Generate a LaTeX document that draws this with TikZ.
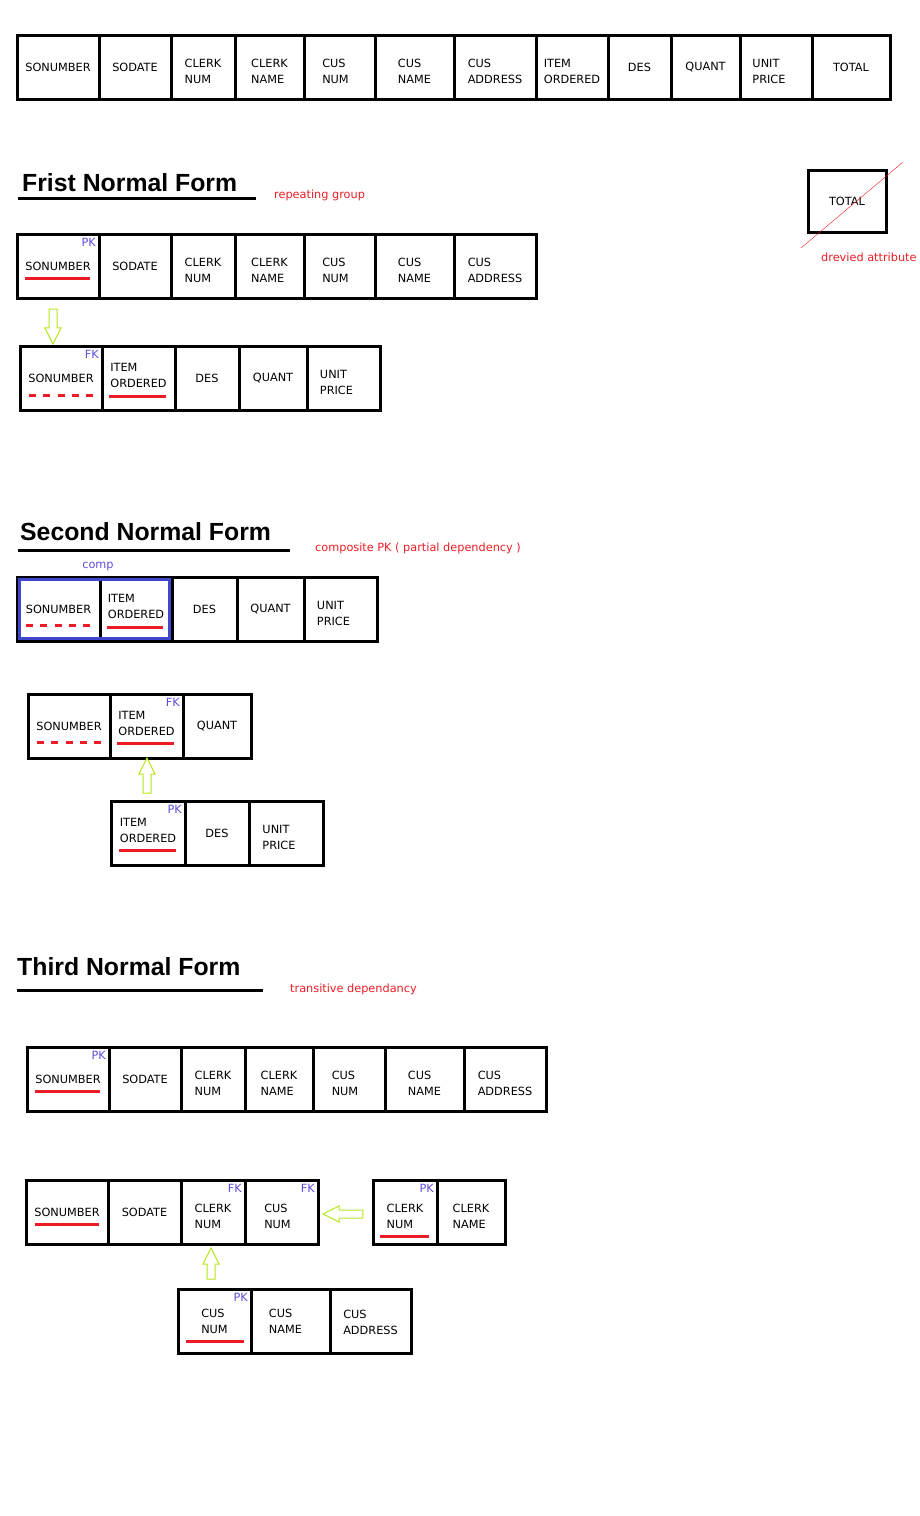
\documentclass[tikz,border=0pt]{standalone}
\usepackage{fontspec}
\setmainfont{DejaVu Sans}
\newfontfamily\titlefont{Liberation Sans}
\usetikzlibrary{positioning, shapes.arrows, fit}
\definecolor{markred}{HTML}{ED1C24}
\definecolor{keyblue}{HTML}{5B4FDB}
\definecolor{compblue}{HTML}{3F48CC}
\definecolor{arrowlime}{HTML}{B5E61D}
\newcommand{\cellfont}{\fontsize{11.3}{16}\selectfont}
\newcommand{\headfont}{\titlefont\bfseries\fontsize{24.8}{28}\selectfont}
% two-line cell text, lowered by #1 from the middle
\newcommand{\twoline}[3][5pt]{\raisebox{-#1}[\height][\depth]{\begin{tabular}{@{}l@{}}#2\\#3\end{tabular}}}

\tikzset{
  cell/.style={draw, line width=3pt, outer sep=0pt, inner sep=0pt,
    minimum height=64pt, align=left, font=\cellfont},
  keytag/.style={anchor=north east, inner sep=2pt, xshift=-1pt, yshift=-2.5pt,
    text=keyblue, font=\cellfont},
  note/.style={anchor=west, inner sep=0pt, text=markred, font=\cellfont},
  heading/.style={anchor=base west, inner sep=0pt, font=\headfont},
  pkline/.style={markred, line width=3pt},
  fkline/.style={markred, line width=3pt, dash pattern=on 7pt off 7.25pt},
  hollowarrow/.style={single arrow, draw=arrowlime, line width=1pt, inner sep=3.5pt,
    single arrow head extend=4pt, single arrow tip angle=53, single arrow head indent=0pt},
}

\begin{document}
\begin{tikzpicture}[x=1pt, y=-1pt]
  \useasboundingbox (0,0) rectangle (920,1516);

  % unnormalised table
  \node[cell, minimum width=82pt, anchor=north west] (u1) at (17,35) {SONUMBER};
  \node[cell, minimum width=72pt, right=0pt of u1] (u2) {SODATE};
  \node[cell, minimum width=64pt, right=0pt of u2] (u3) {\twoline{CLERK}{NUM}};
  \node[cell, minimum width=69pt, right=0pt of u3] (u4) {\twoline{CLERK}{NAME}};
  \node[cell, minimum width=71pt, right=0pt of u4] (u5) {\twoline{CUS}{NUM}\hspace*{8pt}};
  \node[cell, minimum width=79pt, right=0pt of u5] (u6) {\twoline{CUS}{NAME}};
  \node[cell, minimum width=82pt, right=0pt of u6] (u7) {\twoline{CUS}{ADDRESS}};
  \node[cell, minimum width=72pt, right=0pt of u7] (u8) {\twoline{ITEM}{ORDERED}};
  \node[cell, minimum width=63pt, right=0pt of u8] (u9) {DES};
  \node[cell, minimum width=69pt, right=0pt of u9] (u10) {QUANT};
  \node[cell, minimum width=72pt, right=0pt of u10] (u11) {\twoline{UNIT}{PRICE}\hspace*{14pt}};
  \node[cell, minimum width=78pt, right=0pt of u11] (u12) {TOTAL};

  % first normal form
  \node[heading] (h1) at (22,191) {Frist Normal Form};
  \draw[line width=3pt] (18,198) -- (256,198);
  \node[note] (n1) at (274,195) {repeating group};

  \node[cell, minimum width=78pt, minimum height=62pt, anchor=north west] (tot) at (808,170) {TOTAL};
  \draw[markred, thin] ([shift={(-7,16)}]tot.south west) -- ([shift={(17,-8)}]tot.north east);
  \node[note] (n2) at (821,257) {drevied attribute};

  \node[cell, minimum width=82pt, anchor=north west] (fa1) at (17,234) {SONUMBER};
  \node[cell, minimum width=72pt, right=0pt of fa1] (fa2) {SODATE};
  \node[cell, minimum width=64pt, right=0pt of fa2] (fa3) {\twoline{CLERK}{NUM}};
  \node[cell, minimum width=69pt, right=0pt of fa3] (fa4) {\twoline{CLERK}{NAME}};
  \node[cell, minimum width=71pt, right=0pt of fa4] (fa5) {\twoline{CUS}{NUM}\hspace*{8pt}};
  \node[cell, minimum width=79pt, right=0pt of fa5] (fa6) {\twoline{CUS}{NAME}};
  \node[cell, minimum width=82pt, right=0pt of fa6] (fa7) {\twoline{CUS}{ADDRESS}};
  \node[keytag] (kfa1) at (fa1.north east) {PK};
  \draw[pkline] ([shift={(8,44)}]fa1.north west) -- ([shift={(-9,44)}]fa1.north east);

  \node[hollowarrow, minimum height=35pt, shape border rotate=270] (ar1) at (53,322.5) {};

  \node[cell, minimum width=82pt, anchor=north west] (fb1) at (20,346) {SONUMBER};
  \node[cell, minimum width=73pt, right=0pt of fb1] (fb2) {\twoline[-2pt]{ITEM}{ORDERED}};
  \node[cell, minimum width=64pt, right=0pt of fb2] (fb3) {DES};
  \node[cell, minimum width=68pt, right=0pt of fb3] (fb4) {QUANT};
  \node[cell, minimum width=73pt, right=0pt of fb4] (fb5) {\twoline{UNIT}{PRICE}\hspace*{14pt}};
  \node[keytag] (kfb1) at (fb1.north east) {FK};
  \draw[fkline] ([shift={(9,49)}]fb1.north west) -- ([shift={(-9,49)}]fb1.north east);
  \draw[pkline] ([shift={(7,50)}]fb2.north west) -- ([shift={(-9,50)}]fb2.north east);

  % second normal form
  \node[heading] (h2) at (20,540) {Second Normal Form};
  \draw[line width=3pt] (18,550) -- (290,550);
  \node[note] (n3) at (315,548) {composite PK ( partial dependency )};
  \node[text=keyblue, font=\cellfont, inner sep=0pt] (n4) at (98,567) {comp};

  \node[cell, minimum width=83pt, anchor=north west] (sa1) at (17,577) {SONUMBER};
  \node[cell, minimum width=72pt, right=0pt of sa1] (sa2) {\twoline[-2pt]{ITEM}{ORDERED}};
  \node[cell, minimum width=65pt, right=0pt of sa2] (sa3) {DES};
  \node[cell, minimum width=67pt, right=0pt of sa3] (sa4) {QUANT};
  \node[cell, minimum width=73pt, right=0pt of sa4] (sa5) {\twoline{UNIT}{PRICE}\hspace*{14pt}};
  \node[draw=compblue, line width=2.5pt, inner sep=-2.5pt, fit=(sa1)(sa2)] (compkey) {};
  \draw[fkline] ([shift={(9,48)}]sa1.north west) -- ([shift={(-9,48)}]sa1.north east);
  \draw[pkline] ([shift={(7,50)}]sa2.north west) -- ([shift={(-9,50)}]sa2.north east);

  \node[cell, minimum width=82pt, anchor=north west] (sb1) at (28,694) {SONUMBER};
  \node[cell, minimum width=73pt, right=0pt of sb1] (sb2) {\twoline[-2pt]{ITEM}{ORDERED}};
  \node[cell, minimum width=68pt, right=0pt of sb2] (sb3) {QUANT};
  \node[keytag] (ksb2) at (sb2.north east) {FK};
  \draw[fkline] ([shift={(9,48)}]sb1.north west) -- ([shift={(-9,48)}]sb1.north east);
  \draw[pkline] ([shift={(7,49)}]sb2.north west) -- ([shift={(-9,49)}]sb2.north east);

  \node[hollowarrow, minimum height=35pt, shape border rotate=90] (ar2) at (147,779.5) {};

  \node[cell, minimum width=74pt, anchor=north west] (sc1) at (111,801) {\twoline[-2pt]{ITEM}{ORDERED}};
  \node[cell, minimum width=64pt, right=0pt of sc1] (sc2) {DES};
  \node[cell, minimum width=74pt, right=0pt of sc2] (sc3) {\twoline{UNIT}{PRICE}\hspace*{14pt}};
  \node[keytag] (ksc1) at (sc1.north east) {PK};
  \draw[pkline] ([shift={(8,49)}]sc1.north west) -- ([shift={(-9,49)}]sc1.north east);

  % third normal form
  \node[heading] (h3) at (17,975) {Third Normal Form};
  \draw[line width=3pt] (17,990) -- (263,990);
  \node[note] (n5) at (290,989) {transitive dependancy};

  \node[cell, minimum width=82pt, anchor=north west] (ta1) at (27,1047) {SONUMBER};
  \node[cell, minimum width=72pt, right=0pt of ta1] (ta2) {SODATE};
  \node[cell, minimum width=64pt, right=0pt of ta2] (ta3) {\twoline{CLERK}{NUM}};
  \node[cell, minimum width=68pt, right=0pt of ta3] (ta4) {\twoline{CLERK}{NAME}};
  \node[cell, minimum width=72pt, right=0pt of ta4] (ta5) {\twoline{CUS}{NUM}\hspace*{8pt}};
  \node[cell, minimum width=79pt, right=0pt of ta5] (ta6) {\twoline{CUS}{NAME}};
  \node[cell, minimum width=82pt, right=0pt of ta6] (ta7) {\twoline{CUS}{ADDRESS}};
  \node[keytag] (kta1) at (ta1.north east) {PK};
  \draw[pkline] ([shift={(8,44)}]ta1.north west) -- ([shift={(-9,44)}]ta1.north east);

  \node[cell, minimum width=82pt, anchor=north west] (tb1) at (26,1180) {SONUMBER};
  \node[cell, minimum width=73pt, right=0pt of tb1] (tb2) {SODATE};
  \node[cell, minimum width=64pt, right=0pt of tb2] (tb3) {\twoline{CLERK}{NUM}};
  \node[cell, minimum width=73pt, right=0pt of tb3] (tb4) {\twoline{CUS}{NUM}\hspace*{8pt}};
  \node[keytag] (ktb3) at (tb3.north east) {FK};
  \node[keytag] (ktb4) at (tb4.north east) {FK};
  \draw[pkline] ([shift={(9,44)}]tb1.north west) -- ([shift={(-9,44)}]tb1.north east);

  \node[hollowarrow, minimum height=40pt, shape border rotate=180] (ar3) at (347,1214) {};

  \node[cell, minimum width=64pt, anchor=north west] (tc1) at (373,1180) {\twoline{CLERK}{NUM}};
  \node[cell, minimum width=68pt, right=0pt of tc1] (tc2) {\twoline{CLERK}{NAME}};
  \node[keytag] (ktc1) at (tc1.north east) {PK};
  \draw[pkline] ([shift={(7,56)}]tc1.north west) -- ([shift={(-8,56)}]tc1.north east);

  \node[hollowarrow, minimum height=31pt, shape border rotate=90] (ar4) at (211,1267.5) {};

  \node[cell, minimum width=73pt, anchor=north west] (td1) at (178,1289) {\twoline[1pt]{CUS}{NUM}};
  \node[cell, minimum width=79pt, right=0pt of td1] (td2) {\twoline[1pt]{CUS}{NAME}\hspace*{10pt}};
  \node[cell, minimum width=81pt, right=0pt of td2] (td3) {\twoline[2pt]{CUS}{ADDRESS}};
  \node[keytag] (ktd1) at (td1.north east) {PK};
  \draw[pkline] ([shift={(8,52)}]td1.north west) -- ([shift={(-7,52)}]td1.north east);
\end{tikzpicture}
\end{document}
